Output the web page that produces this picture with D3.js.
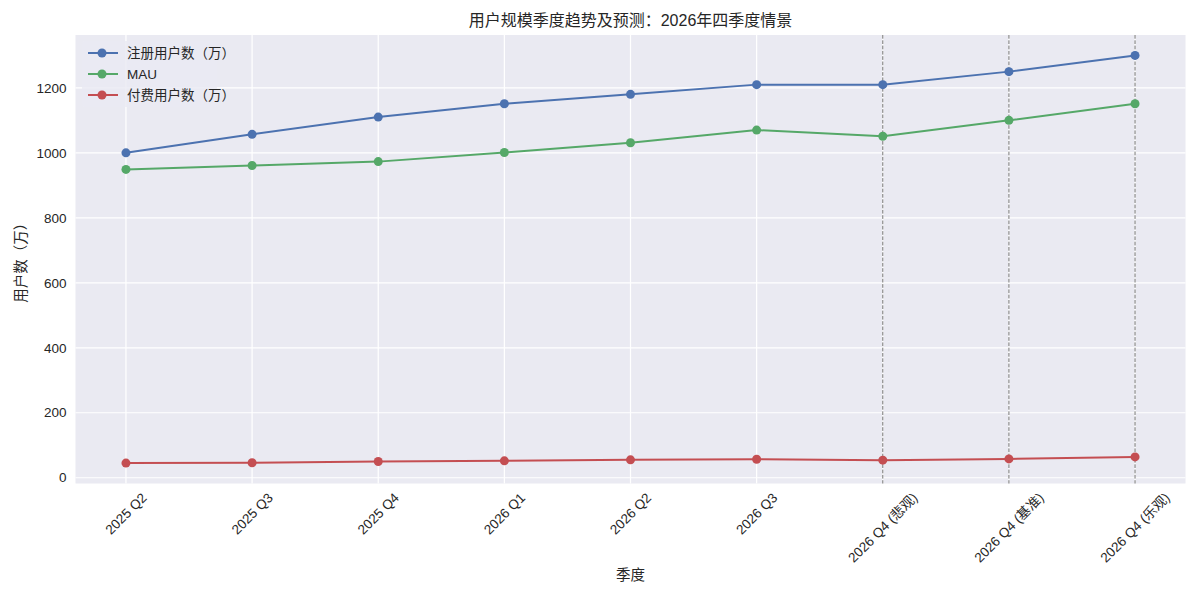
<!DOCTYPE html>
<html><head><meta charset="utf-8">
<script src="https://cdn.jsdelivr.net/npm/d3@7"></script>
<style>
body{margin:0;background:#fff;}
text{font-family:"Liberation Sans","Noto Sans CJK SC",Arial,sans-serif;fill:#262626;}
</style></head>
<body><svg id="c" width="1200" height="600"></svg>
<script>
const categories = ["2025 Q2","2025 Q3","2025 Q4","2026 Q1","2026 Q2","2026 Q3","2026 Q4 (悲观)","2026 Q4 (基准)","2026 Q4 (乐观)"];
const registered = [1000,1057,1110,1151,1180,1210,1210,1250,1300];
const mau = [949,961,973,1001,1031,1070,1051,1100,1151];
const paying = [45,46,50,52,55,57,54,58,64];
const forecastCats = ["2026 Q4 (悲观)","2026 Q4 (基准)","2026 Q4 (乐观)"];
const yTicks = [0,200,400,600,800,1000,1200];
const seriesNames = ["注册用户数（万）","MAU","付费用户数（万）"];
const colors = ["#4C72B0","#55A868","#C44E52"];
const title = "用户规模季度趋势及预测：2026年四季度情景";
const xLabel = "季度";
const yLabel = "用户数（万）";

const svg = d3.select("#c");
const L=75.5,R=1185.5,T=35,B=483.5;
const n = categories.length;
const xLin = d3.scaleLinear().domain([-0.4,n-1+0.4]).range([L,R]);
const x = c => xLin(categories.indexOf(c));
const allVals = registered.concat(mau,paying);
const mn=d3.min(allVals), mx=d3.max(allVals), pad=(mx-mn)*0.05;
const y = d3.scaleLinear().domain([mn-pad,mx+pad]).range([B,T]);

svg.append("rect").attr("x",L).attr("y",T).attr("width",R-L).attr("height",B-T).attr("fill","#EAEAF2");
const g = svg.append("g");
// grid
g.selectAll(".hg").data(yTicks).join("line").attr("x1",L).attr("x2",R)
 .attr("y1",d=>y(d)).attr("y2",d=>y(d)).attr("stroke","#fff").attr("stroke-width",1.2);
g.selectAll(".vg").data(categories).join("line").attr("y1",T).attr("y2",B)
 .attr("x1",d=>x(d)).attr("x2",d=>x(d)).attr("stroke","#fff").attr("stroke-width",1.2);
// forecast dashed lines
g.selectAll(".fl").data(forecastCats).join("line").attr("y1",T).attr("y2",B)
 .attr("x1",d=>x(d)).attr("x2",d=>x(d)).attr("stroke","#555").attr("stroke-opacity",0.8)
 .attr("stroke-width",1).attr("stroke-dasharray","3.7,1.6");
// y tick labels
svg.selectAll(".yt").data(yTicks).join("text").attr("x",L-9).attr("y",d=>y(d)).attr("dy","0.35em")
 .attr("text-anchor","end").attr("font-size",13.5).text(d=>d);
// x tick labels rotated 45, centered bbox
const xt = svg.selectAll(".xt").data(categories).join("text").attr("text-anchor","middle")
 .attr("dy","0.35em").attr("font-size",13.5).text(d=>d);
xt.each(function(d){
  const w=this.getComputedTextLength(), h=13.5;
  const half=(w+h)*Math.SQRT1_2/2;
  d3.select(this).attr("transform",`translate(${x(d)},${B+7+half}) rotate(-45)`);
});
// lines
const series=[registered,mau,paying];
const line=d3.line().x((d,i)=>x(categories[i])).y(d=>y(d));
series.forEach((s,k)=>{
  svg.append("path").datum(s).attr("d",line).attr("fill","none").attr("stroke",colors[k]).attr("stroke-width",2);
  svg.selectAll(".m"+k).data(s).join("circle").attr("cx",(d,i)=>x(categories[i])).attr("cy",d=>y(d))
   .attr("r",4.5).attr("fill",colors[k]);
});
// legend
const lg=svg.append("g");
lg.append("rect").attr("x",82).attr("y",41).attr("width",135).attr("height",66).attr("fill","#EAEAF2").attr("opacity",0.8).attr("rx",3);
seriesNames.forEach((nm,k)=>{
  const yy=53+k*21;
  lg.append("line").attr("x1",88).attr("x2",118).attr("y1",yy).attr("y2",yy).attr("stroke",colors[k]).attr("stroke-width",2);
  lg.append("circle").attr("cx",102).attr("cy",yy).attr("r",4.5).attr("fill",colors[k]);
  lg.append("text").attr("x",127).attr("y",yy).attr("dy","0.35em").attr("font-size",13.5).text(nm);
});
// titles
svg.append("text").attr("x",(L+R)/2).attr("y",20).attr("dy","0.35em").attr("text-anchor","middle").attr("font-size",16).text(title);
svg.append("text").attr("x",(L+R)/2).attr("y",575).attr("dy","0.35em").attr("text-anchor","middle").attr("font-size",14.5).text(xLabel);
svg.append("text").attr("transform",`translate(21,${(T+B)/2}) rotate(-90)`).attr("dy","0.35em").attr("text-anchor","middle").attr("font-size",14.5).text(yLabel);
</script></body></html>
